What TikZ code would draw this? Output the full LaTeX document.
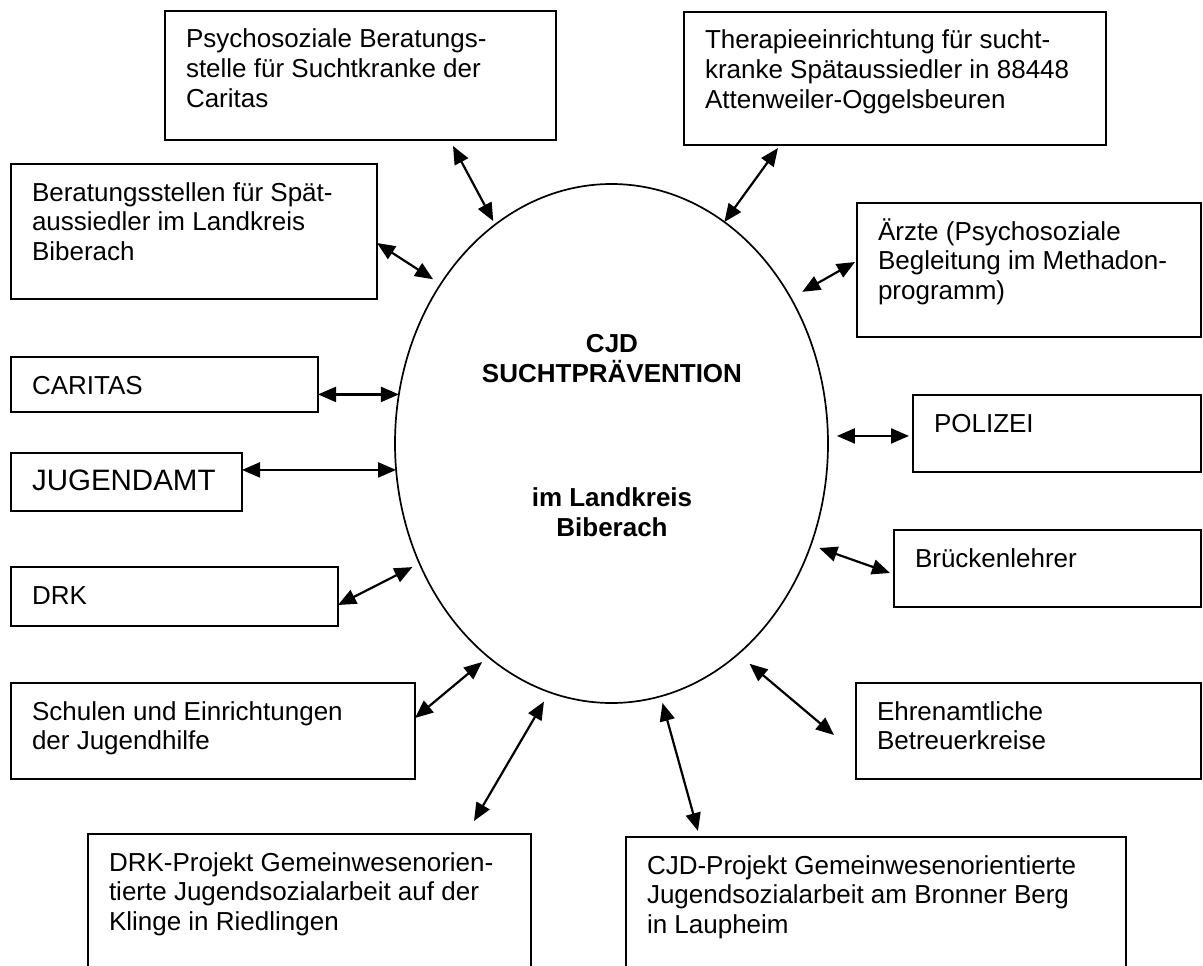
\documentclass[tikz,border=0pt]{standalone}
\usepackage{fontspec}
\setmainfont{Liberation Sans}
\usepackage{tikz}
\usetikzlibrary{calc,shapes.geometric,arrows.meta}
\tikzstyle{partner}=[
    draw,line width=1.7pt,anchor=north west,
    inner xsep=21pt,inner ysep=0pt,outer sep=0pt,
    font=\fontsize{26}{29.8}\selectfont
    ]
\tikzstyle{hub}=[draw,ellipse,line width=1.7pt,minimum width=433pt,minimum height=519pt,inner sep=0pt,outer sep=0pt]
\tikzstyle{hubtext}=[align=center,inner sep=0pt,font=\bfseries\fontsize{26}{30}\selectfont]
\tikzstyle{link}=[<->,>={Triangle[length=18pt,width=15pt]},line width=2.2pt]
% box with text at the top left
\newcommand{\partnerbox}[7][]{
\node[partner,#1] (#2) at (#3,#4)
  {\parbox[t][#6pt][t]{\dimexpr#5pt-42pt\relax}{\raggedright\rule{0pt}{37pt}#7}};
}

\begin{document}
\begin{tikzpicture}[x=1pt,y=-1pt]
\useasboundingbox (0,0) rectangle (1203,966);
\clip (0,0) rectangle (1203,966);
%centre
\node[hub] (cjd) at (611.5,443.5) {};
\node[hubtext] (cjdtext) at (612,436) {CJD\\SUCHTPRÄVENTION\\[94pt]im Landkreis\\Biberach};
%boxes left
\partnerbox{psycho}{165}{11}{391}{129}{Psychosoziale Beratungs-\\stelle für Suchtkranke der\\Caritas}
\partnerbox{beratung}{11}{164}{366}{135}{Beratungsstellen für Spät-\\aussiedler im Landkreis\\Biberach}
\partnerbox{caritas}{11}{357}{307}{55}{CARITAS}
\partnerbox[font=\fontsize{29.5}{34}\selectfont]{jugendamt}{11}{453}{231}{58}{JUGENDAMT}
\partnerbox{drk}{11}{567}{327}{59}{DRK}
\partnerbox{schulen}{11}{683}{404}{96}{Schulen und Einrichtungen\\der Jugendhilfe}
\partnerbox{drkprojekt}{88}{834}{443}{160}{DRK-Projekt Gemeinwesenorien-\\tierte Jugendsozialarbeit auf der\\Klinge in Riedlingen}
%boxes right
\partnerbox{therapie}{684}{12}{422}{133}{Therapieeinrichtung für sucht-\\kranke Spätaussiedler in 88448\\Attenweiler-Oggelsbeuren}
\partnerbox{aerzte}{857}{203}{344}{134}{Ärzte (Psychosoziale\\Begleitung im Methadon-\\programm)}
\partnerbox{polizei}{913}{395}{288}{77}{POLIZEI}
\partnerbox{bruecken}{894}{530}{307}{77}{Brückenlehrer}
\partnerbox{ehrenamt}{856}{683}{345}{96}{Ehrenamtliche\\Betreuerkreise}
\partnerbox{cjdprojekt}{626}{837}{500}{160}{CJD-Projekt Gemeinwesenorientierte\\Jugendsozialarbeit am Bronner Berg\\in Laupheim}
%arrows
\draw[link,shorten >=4pt] ($(psycho.south west)+(288,6)$) -- (cjd.118.3);
\draw[link] ($(therapie.south west)+(94,3)$) -- (cjd.63.3);
\draw[link,shorten >=9pt] ($(beratung.north east)+(0,79)$) -- (cjd.137.3);
\draw[link,shorten >=13pt] ($(aerzte.north west)+(-2,59)$) -- (cjd.39.5);
\draw[link] (cjd.167.5 -| caritas.east) -- (cjd.167.5);
\draw[link] (cjd.187.5 -| jugendamt.east) -- (cjd.187.5);
\draw[link,shorten <=4pt,shorten >=9pt] (cjd.2.5 -| polizei.west) -- (cjd.2.5);
\draw[link,shorten >=8pt] ($(drk.north east)+(0,38)$) -- (cjd.212.1);
\draw[link,shorten >=9pt] ($(bruecken.north west)+(-4,43)$) -- (cjd.333);
\draw[link,shorten >=8pt] ($(schulen.north east)+(0,35)$) -- (cjd.240);
\draw[link,shorten >=11pt] ($(drkprojekt.north west)+(386,-13)$) -- (cjd.256);
\draw[link,shorten >=7pt] ($(cjdprojekt.north west)+(72,-6)$) -- (cjd.281.4);
\draw[link,shorten >=15pt] ($(ehrenamt.north west)+(-22,52)$) -- (cjd.301.6);
\end{tikzpicture}
\end{document}
